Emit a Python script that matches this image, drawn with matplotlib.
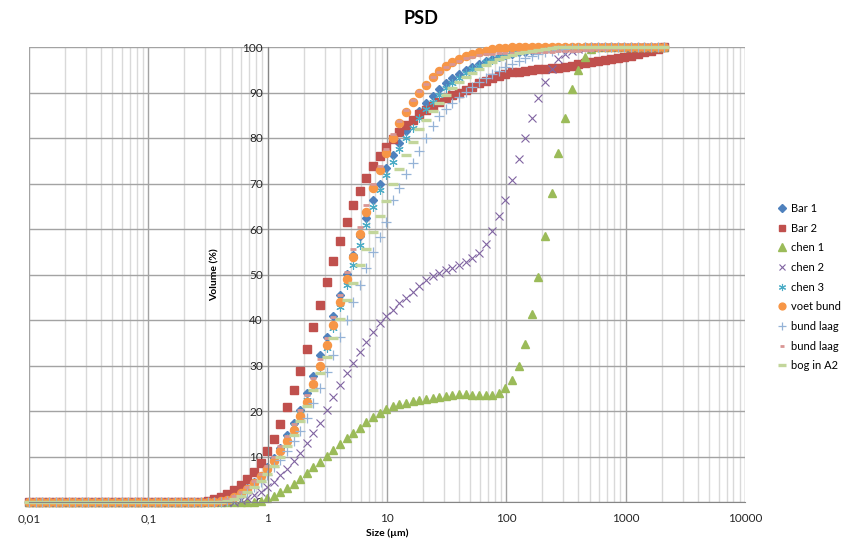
import matplotlib
matplotlib.use("Agg")
import matplotlib.pyplot as plt
from matplotlib.ticker import FixedLocator, FixedFormatter, LogLocator, NullFormatter

plt.rcParams['font.family'] = ['Lato', 'DejaVu Sans']

# instrument size classes (µm)
sizes = [0.01, 0.0114, 0.0129, 0.0147, 0.0167, 0.0189, 0.0215, 0.0244, 0.0278, 0.0315,
         0.0358, 0.0407, 0.0463, 0.0526, 0.0597, 0.0679, 0.0771, 0.0876, 0.0995, 0.113,
         0.128, 0.146, 0.166, 0.188, 0.214, 0.243, 0.276, 0.314, 0.357, 0.405,
         0.46, 0.523, 0.594, 0.675, 0.767, 0.872, 0.991, 1.13, 1.28, 1.45,
         1.65, 1.88, 2.13, 2.42, 2.75, 3.12, 3.55, 4.03, 4.58, 5.21,
         5.92, 6.72, 7.64, 8.68, 9.86, 11.2, 12.7, 14.5, 16.4, 18.7,
         21.2, 24.1, 27.4, 31.1, 35.3, 40.1, 45.6, 51.8, 58.9, 66.9,
         76.0, 86.4, 98.1, 111, 127, 144, 163, 186, 211, 240,
         272, 310, 352, 400, 454, 516, 586, 666, 756, 859,
         976, 1110, 1260, 1430, 1630, 1850, 2100]

# cumulative volume (%) from size class 27 (0.276 µm) onward; below is 0, after the list 100
bar1 = [0, 0.05, 0.2, 0.6, 1.2, 2.0, 3.0, 4.3, 5.8, 7.6, 9.7, 11.9, 14.7, 17.3, 20.2, 23.9,
        27.8, 32.2, 36.3, 40.9, 45.6, 50.1, 54.3, 58.4, 62.5, 66.4, 70.0, 73.4, 76.2, 79.0,
        81.5, 84.0, 86.0, 87.8, 89.3, 90.7, 92.0, 93.2, 94.1, 95.0, 95.7, 96.3, 96.9, 97.4,
        97.8, 98.2, 98.5, 98.8, 99.0, 99.2, 99.4, 99.6, 99.7, 99.8, 99.9]
bar2 = [0.3, 0.7, 1.2, 1.8, 2.6, 3.7, 5.0, 6.7, 8.6, 11.2, 13.9, 17.2, 20.8, 24.6, 28.9,
        33.6, 38.4, 43.4, 48.3, 53.0, 57.3, 61.5, 65.3, 68.4, 71.3, 73.8, 76.0, 78.0, 79.8,
        81.4, 82.8, 84.0, 85.2, 86.2, 87.1, 87.9, 88.7, 89.4, 90.0, 90.6, 91.3, 92.0, 92.6,
        93.2, 93.7, 94.1, 94.4, 94.6, 94.8, 95.0, 95.1, 95.2, 95.3, 95.4, 95.6, 95.9, 96.2,
        96.5, 96.8, 97.0, 97.2, 97.4, 97.6, 97.8, 98.0, 98.4, 98.8, 99.2, 99.6, 100]
chen1 = [0, 0, 0, 0, 0, 0, 0, 0.1, 0.3, 0.8, 1.4, 2.1, 3.0, 4.0, 5.0, 6.3, 7.6, 8.9,
         10.1, 11.4, 12.7, 14.0, 15.1, 16.3, 17.5, 18.6, 19.6, 20.5, 21.1, 21.5, 21.8, 22.1,
         22.4, 22.6, 22.9, 23.1, 23.4, 23.6, 23.7, 23.7, 23.6, 23.5, 23.5, 23.5, 24.0, 25.0,
         26.8, 29.9, 34.7, 41.3, 49.5, 58.5, 68.0, 76.8, 84.5, 90.8, 94.9, 97.9, 99.5]
chen2 = [0, 0, 0, 0, 0.1, 0.4, 0.9, 1.5, 2.3, 3.2, 4.5, 5.9, 7.2, 9.1, 10.8, 12.9, 15.2,
         17.4, 20.3, 23.0, 25.7, 28.3, 30.6, 33.0, 35.2, 37.4, 39.3, 40.9, 42.2, 43.7, 44.8,
         46.2, 47.5, 48.7, 49.6, 50.4, 51.0, 51.5, 52.1, 52.8, 53.6, 54.8, 56.8, 59.5, 62.8,
         66.4, 70.8, 75.3, 80.0, 84.5, 88.7, 92.2, 95.1, 97.3, 98.5, 99.2, 99.6, 99.8]
chen3 = [0, 0, 0.2, 0.5, 1.0, 1.7, 2.7, 3.9, 5.4, 7.2, 9.2, 11.4, 14.0, 16.6, 19.5, 22.5,
         25.7, 29.6, 33.8, 38.2, 42.9, 47.7, 52.1, 56.5, 60.9, 64.9, 68.5, 71.8, 74.8, 77.5,
         80.0, 82.3, 84.4, 86.3, 88.0, 89.5, 90.9, 92.1, 93.2, 94.2, 95.1, 95.9, 96.6, 97.2,
         97.7, 98.2, 98.6, 98.9, 99.2, 99.5, 99.7, 99.9]
voet_bund = [0, 0.05, 0.15, 0.5, 1.1, 1.9, 2.9, 4.2, 5.7, 7.2, 9.0, 11.1, 13.3, 15.8, 18.8,
             22.0, 25.9, 30.0, 34.4, 38.9, 43.9, 49.0, 53.8, 58.8, 63.8, 69.0, 73.0, 76.7,
             80.1, 83.3, 85.8, 88.0, 90.0, 91.7, 93.3, 94.7, 95.8, 96.7, 97.4, 98.0, 98.5,
             98.9, 99.2, 99.5, 99.7, 99.8, 99.9]
bund_laag = [0, 0, 0, 0.2, 0.6, 1.2, 2.1, 3.2, 4.5, 6.0, 7.6, 9.2, 11.2, 13.3, 15.5, 18.4,
             21.7, 25.0, 28.6, 32.3, 36.3, 40.0, 44.0, 47.8, 51.4, 55.0, 58.3, 61.6, 66.3,
             69.0, 72.1, 74.6, 77.2, 80.0, 82.6, 84.8, 86.3, 87.8, 89.1, 90.2, 91.2, 92.2,
             93.2, 94.0, 94.8, 95.5, 96.3, 97.0, 97.6, 98.1, 98.5, 98.8, 99.1, 99.3, 99.5,
             99.7, 99.8, 99.9]
bund_laag_2 = [0, 0.1, 0.3, 0.7, 1.3, 2.1, 3.2, 4.6, 6.2, 8.0, 10.0, 12.2, 14.6, 17.2, 20.2,
               23.5, 27.3, 31.5, 36.0, 40.7, 45.6, 50.6, 55.5, 60.5, 65.3, 69.8, 73.8, 77.5,
               80.9, 83.8, 86.2, 88.4, 90.3, 91.9, 93.3, 94.5, 95.5, 96.3, 97.0, 97.5, 97.9,
               98.2, 98.4, 98.5, 98.6, 98.7, 98.7, 98.8, 98.8, 98.9, 98.9, 99.0, 99.0, 99.1,
               99.1, 99.2, 99.2, 99.3, 99.4, 99.5, 99.6, 99.7, 99.8, 99.9, 100]
bog_a2 = [0, 0, 0.1, 0.3, 0.7, 1.3, 2.2, 3.3, 4.6, 6.2, 8.0, 10.0, 12.3, 14.8, 17.7, 21.0,
          24.6, 28.3, 31.9, 36.1, 40.2, 44.4, 48.1, 52.1, 55.6, 59.3, 62.9, 66.2, 70.0,
          73.2, 76.3, 79.2, 82.0, 84.0, 86.0, 87.8, 89.5, 90.9, 92.2, 93.3, 94.3, 95.2,
          96.0, 96.7, 97.3, 97.8, 98.2, 98.6, 98.9, 99.2, 99.4, 99.6, 99.8]

x_ticks = [0.01, 0.1, 1, 10, 100, 1000, 10000]
x_labels = ["0,01", "0,1", "1", "10", "100", "1000", "10000"]


def full(vals):
    lead = [0] * 27
    tail = [100] * (len(sizes) - 27 - len(vals))
    return lead + vals + tail


series = [
    ("Bar 1", bar1, "#4F81BD", "D", 4.3, {}),
    ("Bar 2", bar2, "#C0504D", "s", 5.3, {}),
    ("chen 1", chen1, "#9BBB59", "^", 6.2, {}),
    ("chen 2", chen2, "#8064A2", "x", 5.5, {"markeredgewidth": 0.8}),
    ("chen 3", chen3, "#4BACC6", (6, 2, 0), 6, {"markeredgewidth": 0.8}),
    ("voet bund", voet_bund, "#F79646", "o", 5.8, {}),
    ("bund laag", bund_laag, "#95B3D7", "+", 7, {"markeredgewidth": 0.9}),
    ("bund laag", bund_laag_2, "#D99694", "_", 4, {"markeredgewidth": 2.0}),
    ("bog in A2", bog_a2, "#C3D69B", "_", 7, {"markeredgewidth": 2.4}),
]

fig = plt.figure(figsize=(8.42, 5.44), dpi=100)
ax = fig.add_axes([29 / 842, 1 - 502 / 544, 716 / 842, 455 / 544])

for name, vals, color, marker, ms, kw in series:
    ax.plot(sizes, full(vals), linestyle="none", marker=marker, markersize=ms,
            color=color, markeredgecolor=color, label=name, clip_on=False, **kw)

ax.set_xscale("log")
ax.set_xlim(0.01, 10000)
ax.set_ylim(0, 100)
ax.xaxis.set_major_locator(FixedLocator(x_ticks))
ax.xaxis.set_major_formatter(FixedFormatter(x_labels))
ax.xaxis.set_minor_locator(LogLocator(base=10, subs=range(2, 10)))
ax.xaxis.set_minor_formatter(NullFormatter())
ax.set_yticks(range(0, 101, 10))

ax.grid(True, which="major", axis="both", color="#a3a3a3", linewidth=1.0, zorder=0)
ax.grid(True, which="minor", axis="x", color="#d9d9d9", linewidth=1.0, zorder=0)
ax.set_axisbelow(True)

for s in ["top", "right"]:
    ax.spines[s].set_visible(False)
ax.spines["left"].set_position(("data", 1))
ax.spines["left"].set_color("#868686")
ax.spines["bottom"].set_color("#868686")
ax.tick_params(axis="both", which="both", length=0, labelsize=8.5, colors="#262626")
ax.tick_params(axis="x", pad=8)

ax.set_xlabel("Size (µm)", fontsize=7.5, fontweight="bold", labelpad=3)
ax.set_ylabel("Volume (%)", fontsize=7.5, fontweight="bold")
ax.yaxis.set_label_coords((220 - 29) / 716, 0.5)

fig.text(0.5, 1 - 18 / 544, "PSD", ha="center", va="center", fontsize=13, fontweight="bold")

ax.legend(loc="upper left", bbox_to_anchor=(777 / 842, 1 - 203 / 544),
          bbox_transform=fig.transFigure, frameon=False, fontsize=8,
          handletextpad=0.35, handlelength=0.9, labelspacing=0.78, borderaxespad=0,
          borderpad=0, markerscale=0.85)

fig.savefig("out.png", dpi=100)
